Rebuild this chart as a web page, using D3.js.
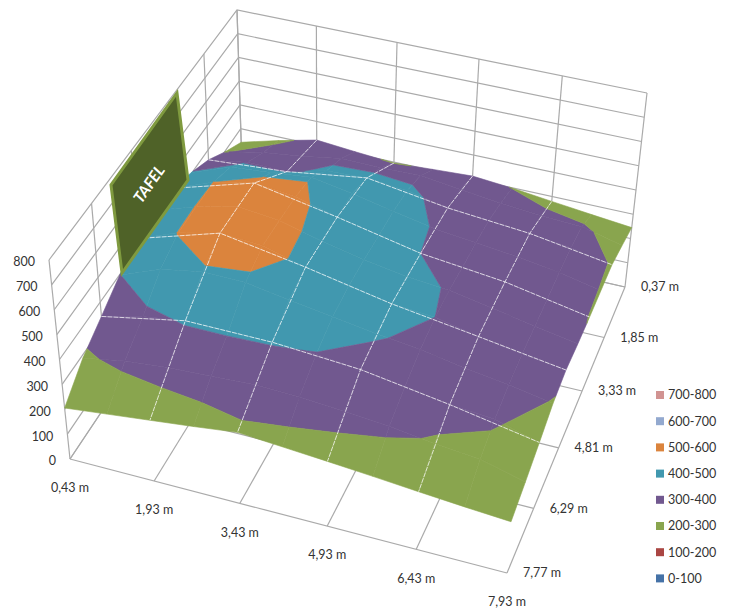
<!DOCTYPE html>
<html><head><meta charset="utf-8"><script src="https://cdnjs.cloudflare.com/ajax/libs/d3/7.8.5/d3.min.js"></script>
<style>html,body{margin:0;background:#fff}text{font-family:Lato,sans-serif;font-size:12.5px;fill:#333}</style></head><body>
<svg id="c" width="730" height="612"></svg>
<script>
const xLabels=["0,43 m","1,93 m","3,43 m","4,93 m","6,43 m","7,93 m"];
const yLabels=["0,37 m","1,85 m","3,33 m","4,81 m","6,29 m","7,77 m"];
const zTicks=[0,100,200,300,400,500,600,700,800];
const bandLabels=["700-800","600-700","500-600","400-500","300-400","200-300","100-200","0-100"];
const bandColors=["#D19392","#93A9CF","#DB843D","#4198AF","#71588F","#89A54E","#AA4643","#4572A7"];
// surface heights, one row per half-step in y from back (0,37 m) to front (7,77 m), half-steps in x
const zValues=[
[243,285,322,308,296,305,313,299,280,262,245],
[297,329,349,375,373,377,355,335,320,312,272],
[359,385,382,422,429,414,379,362,349,328,297],
[404,463,477,495,465,430,396,376,358,332,298],
[439,501,535,516,471,434,400,384,362,331,299],
[451,503,542,524,479,442,413,397,366,333,303],
[440,503,540,528,481,444,413,400,363,333,312],
[398,462,493,489,459,433,406,384,352,328,297],
[342,383,407,407,404,398,379,355,325,310,262],
[288,319,335,342,351,346,333,317,293,275,230],
[205,224,243,262,283,270,257,243,228,214,202]];
function homography(q){
 const [p0,p1,p2,p3]=q;
 const dx1=p1[0]-p2[0],dx2=p3[0]-p2[0],sx=p0[0]-p1[0]+p2[0]-p3[0];
 const dy1=p1[1]-p2[1],dy2=p3[1]-p2[1],sy=p0[1]-p1[1]+p2[1]-p3[1];
 const d=dx1*dy2-dx2*dy1,g=(sx*dy2-dx2*sy)/d,h=(dx1*sy-sx*dy1)/d;
 const a=p1[0]-p0[0]+g*p1[0],b=p3[0]-p0[0]+h*p3[0],c=p0[0];
 const e=p1[1]-p0[1]+g*p1[1],f=p3[1]-p0[1]+h*p3[1],i=p0[1];
 return (u,v)=>{const n=g*u+h*v+1;return [(a*u+b*v+c)/n,(e*u+f*v+i)/n];};
}
const floorH=homography([[243,200],[625,287],[507,573],[70,459]]);
const topH=homography([[237,10],[647,93],[523,370],[49,260]]);
const wS=d3.scaleLinear([0,800],[0,1]);
function proj(u,v,z){const F=floorH(u,v),T=topH(u,v),w=wS(z);return [F[0]+w*(T[0]-F[0]),F[1]+w*(T[1]-F[1])];}
const uS=d3.scalePoint(xLabels,[0,1]),vS=d3.scalePoint(yLabels,[0,1]);
const N=zValues.length,gS=d3.scaleLinear([0,N-1],[0,1]);
const svg=d3.select("#c");
const lineG=svg.append("g").attr("fill","none").attr("stroke","#aaa").attr("stroke-width",1.2);
const L=d3.line();
function seg(pts){lineG.append("path").attr("d",L(pts));}
zTicks.forEach(z=>{seg([proj(0,1,z),proj(0,0,z),proj(1,0,z)]);});
xLabels.forEach(l=>{const u=uS(l);seg([proj(u,0,0),proj(u,0,800)]);seg([proj(u,0,0),proj(u,1,0)]);});
yLabels.forEach(l=>{const v=vS(l);seg([proj(0,v,0),proj(0,v,800)]);seg([proj(0,v,0),proj(1,v,0)]);});
function clip(poly,fn){const out=[];poly.forEach((p,i)=>{const q=poly[(i+1)%poly.length],a=fn(p),b=fn(q);
 if(a>=0)out.push(p);if((a>=0)!==(b>=0)){const t=a/(a-b);out.push(p.map((c,k)=>c+t*(q[k]-c)));}});return out;}
const surf=svg.append("g");
const bands=bandLabels.map((l,i)=>({lo:+l.split("-")[0],hi:+l.split("-")[1],c:bandColors[i]}));
for(let j=0;j<N-1;j++)for(let i=0;i<N-1;i++){
 const poly=[[i,j],[i+1,j],[i+1,j+1],[i,j+1]].map(([a,b])=>[gS(a),gS(b),zValues[b][a]]);
 bands.forEach(b=>{let p=clip(poly,q=>q[2]-b.lo);if(p.length)p=clip(p,q=>b.hi-q[2]);if(p.length<3)return;
  surf.append("path").attr("d",L(p.map(q=>proj(q[0],q[1],q[2])))+"Z").attr("fill",b.c).attr("stroke",b.c).attr("stroke-width",.6);});
}
const gl=svg.append("g").attr("fill","none").attr("stroke","#fff").attr("stroke-opacity",.75).attr("stroke-width",1).attr("stroke-dasharray","5 1");
const major=d3.range(0,N,2);
major.slice(1,-1).forEach(j=>gl.append("path").attr("d",L(major.map(i=>proj(gS(i),gS(j),zValues[j][i])))));
major.slice(1,-1).forEach(i=>gl.append("path").attr("d",L(major.map(j=>proj(gS(i),gS(j),zValues[j][i])))));
svg.append("polygon").attr("points","177,93 188,180 122,273 111,185").attr("fill","#4F6228").attr("stroke","#7F9A3F").attr("stroke-width",3);
svg.append("text").attr("transform","translate(149,184) rotate(-55)").attr("text-anchor","middle").attr("dy","0.35em").style("fill","#fff").style("font-weight","bold").style("font-style","italic").style("font-size","15.5px").text("TAFEL");
zTicks.forEach(z=>{const p=proj(0,1,z);svg.append("text").attr("x",p[0]-14).attr("y",p[1]+2).attr("text-anchor","end").attr("dy","0.35em").text(z);});
xLabels.forEach(l=>{const p=proj(uS(l),1,0);svg.append("text").attr("x",p[0]).attr("y",p[1]+29).attr("text-anchor","middle").attr("dy","0.35em").text(l);});
yLabels.forEach(l=>{const p=proj(1,vS(l),0);svg.append("text").attr("x",p[0]+16).attr("y",p[1]).attr("dy","0.35em").text(l);});
bands.forEach((b,i)=>{const y=395+i*26.2;svg.append("rect").attr("x",656).attr("y",y-4).attr("width",8).attr("height",8).attr("fill",b.c);
 svg.append("text").attr("x",668).attr("y",y).attr("dy","0.35em").text(bandLabels[i]);});
</script></body></html>
